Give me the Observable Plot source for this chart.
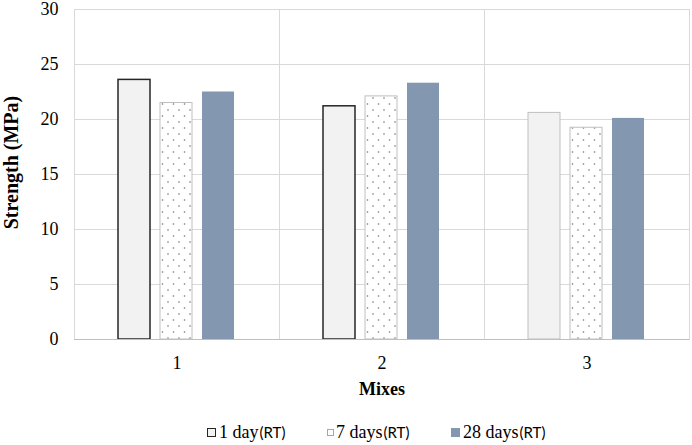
<!DOCTYPE html>
<html><head><meta charset="utf-8">
<script src="https://cdn.jsdelivr.net/npm/d3@7"></script>
<script src="https://cdn.jsdelivr.net/npm/@observablehq/plot@0.6"></script>
<style>
body{margin:0;background:#fff;}
#chart{position:relative;width:692px;height:445px;overflow:hidden;}
#legend{position:relative;height:34px;}
.item{position:absolute;top:0;height:34px;display:flex;align-items:center;white-space:nowrap;}
.sw{display:inline-block;box-sizing:border-box;margin-right:3px;}
.nm{font-family:"Liberation Serif","Times New Roman",serif;font-size:18px;color:#000;}
.sf{font-family:Lato,sans-serif;font-size:15px;color:#000;margin-left:1px;}
</style></head><body><div id="chart"></div>
<script>
const mixes = ["1", "2", "3"];
const series = ["1 day", "7 days", "28 days"];
const day1 = [23.6, 21.2, 20.6];
const day7 = [21.5, 22.1, 19.25];
const day28 = [22.5, 23.3, 20.1];
const yTicks = [0, 5, 10, 15, 20, 25, 30];
const legendSuffix = "(RT)";

const values = [day1, day7, day28];
const data = mixes.flatMap((m, i) => series.map((s, j) => ({mix: m, series: s, value: values[j][i]})));

const bar = (s, opts) => Plot.barY(data.filter(d => d.series === s), {fx: "mix", x: "series", y: "value", ...opts});

const plot = Plot.plot({
  width: 692, height: 415,
  marginLeft: 73, marginRight: 3, marginTop: 9, marginBottom: 76,
  style: {fontFamily: "\"Liberation Serif\", \"Times New Roman\", serif", fontSize: "18px", color: "#000", background: "#fff"},
  fx: {domain: mixes, padding: 0, label: "Mixes"},
  x: {domain: series, paddingInner: 0.23, paddingOuter: 1, axis: null},
  y: {domain: [0, 30], label: "Strength (MPa)"},
  color: {type: "identity"},
  marks: [
    Plot.gridY(yTicks, {stroke: "#d9d9d9", strokeOpacity: 1}),
    Plot.frame({stroke: "#d9d9d9"}),
    bar("1 day", {fill: "#f2f2f2", stroke: d => d.mix === "3" ? "#bfbfbf" : "#262626", strokeWidth: d => d.mix === "3" ? 1 : 1.5}),
    bar("7 days", {fill: "url(#dots)", stroke: "#bfbfbf", strokeWidth: 1}),
    bar("28 days", {fill: "#8497b0"}),
    Plot.ruleY([0], {stroke: "#bfbfbf"}),
    Plot.axisY(yTicks, {tickSize: 0, tickPadding: 16, label: "Strength (MPa)", labelArrow: "none", labelAnchor: "center", labelOffset: 71, fontFamily: "\"Liberation Serif\", serif"}),
    Plot.axisFx({anchor: "bottom", tickSize: 0, tickPadding: 17, label: "Mixes", labelArrow: "none", labelAnchor: "center", labelOffset: 55, fontFamily: "\"Liberation Serif\", serif"})
  ]
});

const defs = d3.select(plot).insert("defs", ":first-child");
const pat = defs.append("pattern").attr("id", "dots").attr("patternUnits", "userSpaceOnUse").attr("width", 11).attr("height", 12);
pat.append("rect").attr("width", 11).attr("height", 12).attr("fill", "#fff");
pat.append("circle").attr("cx", 2).attr("cy", 2).attr("r", 0.8).attr("fill", "#707070");
pat.append("circle").attr("cx", 7.5).attr("cy", 8).attr("r", 0.8).attr("fill", "#707070");

d3.select(plot).selectAll('[aria-label="y-axis label"] text, [aria-label="fx-axis label"] text').attr("font-weight", "bold");
d3.select(plot).selectAll('[aria-label="y-axis label"] text')
  .attr("font-size", "20px")
  .attr("transform", function() { return "translate(0,-12) " + (this.getAttribute("transform") || ""); });

const chart = document.getElementById("chart");
chart.appendChild(plot);

const legend = document.createElement("div");
legend.id = "legend";
const swatches = [
  {left: 207, css: "width:9px;height:9px;background:#f2f2f2;border:1.5px solid #262626;"},
  {left: 327, css: "width:7px;height:7px;background:#fff;border:1px solid #a6a6a6;margin-right:2px;"},
  {left: 451, css: "width:9px;height:9px;background:#8497b0;"}
];
series.forEach((s, i) => {
  const it = document.createElement("div");
  it.className = "item";
  it.style.left = swatches[i].left + "px";
  it.innerHTML = `<span class="sw" style="${swatches[i].css}"></span><span class="nm">${s}</span><span class="sf">${legendSuffix}</span>`;
  legend.appendChild(it);
});
chart.appendChild(legend);
</script>
</body></html>
